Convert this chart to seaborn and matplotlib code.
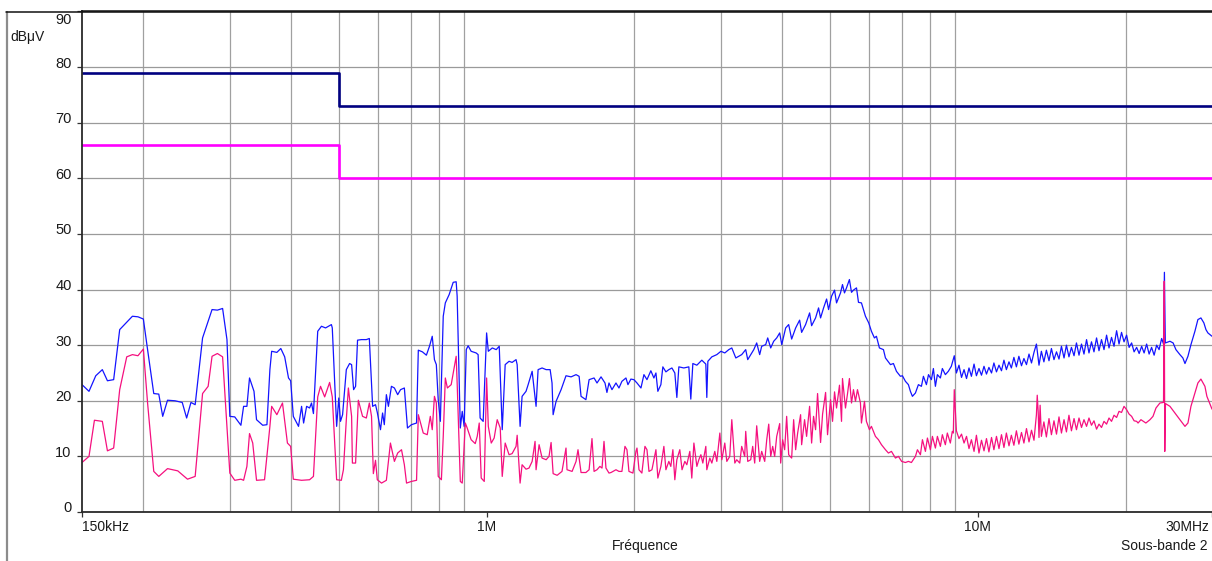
import matplotlib
matplotlib.use("Agg")
import matplotlib.pyplot as plt
from matplotlib.lines import Line2D
from matplotlib.ticker import FixedLocator, NullFormatter
from matplotlib.transforms import ScaledTranslation
import pandas as pd
import seaborn as sns

# ---- Limit lines (dBµV) ----
limit_freq_mhz = [0.15, 0.5, 30.0]
limit_qp_dbuv = [79, 73, 73]
limit_avg_dbuv = [66, 60, 60]

# ---- Peak trace, 150 kHz - 9 MHz ----
peak_freq_lf = [
    0.150, 0.155, 0.160, 0.165, 0.169, 0.174, 0.179, 0.184, 0.190, 0.195,
    0.200, 0.204, 0.210, 0.215, 0.219, 0.224, 0.232, 0.240, 0.245, 0.250,
    0.255, 0.264, 0.276, 0.283, 0.290, 0.296, 0.300, 0.307, 0.316, 0.320,
    0.325, 0.329, 0.336, 0.340, 0.350, 0.357, 0.362, 0.365, 0.374, 0.381,
    0.388, 0.395, 0.399, 0.404, 0.414, 0.420, 0.424, 0.430, 0.436, 0.440,
    0.444, 0.453, 0.461, 0.470, 0.483, 0.485, 0.495, 0.500, 0.504, 0.509,
    0.518, 0.526, 0.531, 0.536, 0.541, 0.546, 0.556, 0.569, 0.577, 0.586,
    0.594, 0.599, 0.608, 0.614, 0.619, 0.625, 0.631, 0.640, 0.649, 0.659,
    0.668, 0.680, 0.690, 0.703, 0.720, 0.726, 0.740, 0.754, 0.765, 0.775,
    0.783, 0.790, 0.797, 0.805, 0.816, 0.824, 0.839, 0.855, 0.867, 0.871,
    0.884, 0.892, 0.900, 0.909, 0.917, 0.930, 0.952, 0.961, 0.970, 0.984,
    1.000, 1.008, 1.027, 1.046, 1.061, 1.076, 1.091, 1.111, 1.127, 1.148,
    1.154, 1.170, 1.181, 1.203, 1.215, 1.238, 1.261, 1.273, 1.297, 1.322,
    1.347, 1.359, 1.366, 1.385, 1.418, 1.451, 1.486, 1.521, 1.543, 1.557,
    1.593, 1.617, 1.655, 1.678, 1.710, 1.742, 1.758, 1.775, 1.800, 1.834,
    1.860, 1.886, 1.922, 1.940, 1.967, 1.995, 2.024, 2.062, 2.091, 2.121,
    2.160, 2.191, 2.212, 2.232, 2.264, 2.285, 2.318, 2.350, 2.384, 2.417,
    2.440, 2.463, 2.521, 2.581, 2.605, 2.630, 2.680, 2.743, 2.795, 2.808,
    2.822, 2.875, 2.943, 3.000, 3.055, 3.113, 3.157, 3.217, 3.261, 3.307,
    3.370, 3.402, 3.450, 3.500, 3.548, 3.598, 3.632, 3.701, 3.736, 3.789,
    3.842, 3.897, 3.952, 3.990, 4.064, 4.122, 4.180, 4.259, 4.339, 4.380,
    4.462, 4.547, 4.590, 4.676, 4.742, 4.787, 4.855, 4.924, 4.970, 5.040,
    5.111, 5.159, 5.256, 5.305, 5.355, 5.406, 5.480, 5.534, 5.585, 5.665,
    5.718, 5.798, 5.908, 6.000, 6.076, 6.162, 6.220, 6.308, 6.428, 6.489,
    6.643, 6.736, 6.832, 6.960, 7.026, 7.126, 7.226, 7.294, 7.363, 7.468,
    7.573, 7.681, 7.753, 7.863, 7.940, 8.049, 8.124, 8.201, 8.278, 8.395,
    8.473, 8.593, 8.714, 8.837, 8.960,
]
peak_dbuv_lf = [
    22.9, 21.7, 24.5, 25.6, 23.6, 23.8, 32.8, 33.9, 35.2, 35.1,
    34.7, 29.2, 21.3, 21.2, 17.2, 20.1, 20.0, 19.7, 16.9, 19.7,
    19.3, 31.3, 36.4, 36.3, 36.6, 31.0, 17.2, 17.1, 15.6, 19.0,
    19.0, 24.1, 21.7, 16.6, 15.6, 15.7, 25.6, 28.9, 28.7, 29.4,
    27.9, 24.1, 23.6, 17.2, 15.4, 19.0, 16.0, 19.0, 18.7, 19.6,
    17.7, 32.5, 33.4, 33.1, 33.7, 33.1, 15.4, 20.5, 16.3, 17.5,
    25.6, 26.7, 26.5, 22.0, 22.6, 30.9, 31.0, 31.0, 31.2, 19.0,
    19.3, 17.9, 14.8, 17.8, 15.7, 21.1, 19.0, 22.6, 22.3, 21.1,
    22.0, 22.3, 15.1, 15.7, 16.0, 29.1, 28.8, 28.2, 29.8, 31.6,
    27.4, 26.5, 20.2, 16.3, 35.2, 37.6, 39.1, 41.3, 41.4, 38.8,
    15.1, 18.1, 15.4, 29.2, 29.9, 28.9, 28.6, 28.3, 16.9, 16.3,
    32.2, 28.9, 29.5, 29.2, 29.8, 14.8, 26.5, 27.1, 26.9, 27.4,
    26.5, 15.4, 20.8, 21.7, 22.9, 25.3, 19.0, 25.6, 25.9, 25.6,
    25.6, 23.2, 17.5, 19.9, 22.0, 24.5, 24.3, 24.7, 24.4, 20.8,
    20.2, 23.8, 24.1, 23.2, 24.3, 23.2, 21.5, 23.2, 22.0, 23.2,
    22.3, 23.5, 24.1, 22.9, 23.9, 23.8, 23.2, 22.3, 24.7, 23.8,
    25.4, 24.1, 25.0, 21.7, 22.9, 26.1, 25.2, 25.6, 25.9, 25.0,
    20.6, 26.1, 25.9, 26.1, 20.3, 26.7, 26.4, 27.3, 26.6, 20.6,
    27.1, 27.9, 28.3, 28.9, 28.6, 29.2, 29.5, 27.7, 28.0, 28.3,
    29.2, 27.4, 28.3, 29.2, 30.4, 28.3, 29.8, 30.1, 31.3, 29.5,
    30.7, 31.3, 32.2, 30.1, 33.1, 33.7, 31.1, 33.1, 34.5, 32.3,
    33.7, 35.8, 33.5, 34.9, 36.7, 34.9, 36.7, 38.3, 36.4, 38.8,
    39.9, 37.6, 39.4, 40.9, 39.4, 40.3, 41.8, 39.5, 39.9, 40.3,
    37.7, 37.6, 35.2, 34.0, 32.5, 31.3, 31.6, 29.5, 29.2, 27.7,
    26.5, 26.7, 25.3, 24.4, 24.5, 23.5, 22.9, 21.7, 20.8, 21.4,
    22.9, 22.6, 24.4, 22.9, 24.7, 23.8, 25.8, 22.6, 24.7, 24.1,
    25.8, 24.7, 25.3, 26.2, 28.1,
]

# ---- Peak trace, 9 MHz - 30 MHz ----
peak_freq_hf = [
    9.05, 9.16, 9.27, 9.38, 9.49, 9.60, 9.71, 9.83, 9.94, 10.06,
    10.18, 10.30, 10.42, 10.54, 10.67, 10.79, 10.92, 11.05, 11.18, 11.31,
    11.44, 11.58, 11.71, 11.85, 11.99, 12.13, 12.28, 12.42, 12.57, 12.72,
    12.87, 13.02, 13.17, 13.33, 13.48, 13.64, 13.80, 13.97, 14.13, 14.30,
    14.47, 14.64, 14.81, 14.99, 15.16, 15.34, 15.52, 15.71, 15.89, 16.08,
    16.27, 16.46, 16.66, 16.85, 17.05, 17.25, 17.46, 17.66, 17.87, 18.08,
    18.30, 18.51, 18.73, 18.95, 19.18, 19.40, 19.63, 19.86, 20.10, 20.34,
    20.58, 20.82, 21.07, 21.32, 21.57, 21.82, 22.08, 22.34, 22.60, 22.87,
    23.14, 23.41, 23.69, 23.90, 24.00, 24.10, 24.63, 25.00, 25.33, 25.81,
    26.17, 26.43, 26.80, 27.18, 27.69, 28.08, 28.48, 28.88, 29.16, 29.43,
    30.00,
]
peak_dbuv_hf = [
    25.0, 26.4, 24.2, 25.6, 24.0, 25.9, 24.4, 26.6, 24.5, 25.8,
    24.6, 26.2, 24.8, 26.0, 25.0, 26.8, 25.2, 26.4, 25.4, 27.3,
    25.6, 27.0, 25.9, 27.8, 26.1, 28.0, 26.3, 27.6, 26.5, 28.4,
    26.8, 28.7, 30.2, 26.4, 28.9, 27.0, 29.1, 27.2, 29.4, 27.4,
    28.8, 27.5, 29.8, 27.7, 30.0, 27.9, 29.6, 28.1, 30.4, 28.2,
    30.2, 28.4, 31.0, 28.6, 30.6, 28.8, 31.3, 29.0, 31.0, 29.2,
    31.8, 29.5, 31.4, 29.8, 32.6, 30.2, 32.3, 30.6, 31.8, 29.6,
    30.4, 28.8, 29.6, 28.5, 29.8, 28.6, 30.2, 28.4, 29.6, 28.2,
    30.0, 29.2, 31.2, 30.2, 43.1, 30.4, 30.7, 30.4, 29.2, 28.3,
    27.7, 26.7, 28.0, 30.1, 32.5, 34.6, 34.9, 34.0, 32.8, 32.2,
    31.6,
]

# ---- Average trace, 150 kHz - 9 MHz ----
avg_freq_lf = [
    0.150, 0.155, 0.159, 0.165, 0.169, 0.174, 0.179, 0.185, 0.190, 0.195,
    0.200, 0.204, 0.210, 0.215, 0.224, 0.235, 0.246, 0.255, 0.264, 0.271,
    0.276, 0.283, 0.290, 0.300, 0.307, 0.316, 0.320, 0.325, 0.329, 0.334,
    0.340, 0.353, 0.362, 0.365, 0.374, 0.384, 0.393, 0.399, 0.404, 0.420,
    0.436, 0.444, 0.453, 0.459, 0.468, 0.479, 0.485, 0.495, 0.506, 0.511,
    0.518, 0.523, 0.531, 0.533, 0.541, 0.548, 0.559, 0.569, 0.577, 0.583,
    0.588, 0.594, 0.599, 0.611, 0.625, 0.637, 0.649, 0.659, 0.671, 0.680,
    0.687, 0.703, 0.720, 0.726, 0.743, 0.757, 0.768, 0.775, 0.783, 0.790,
    0.797, 0.809, 0.816, 0.824, 0.832, 0.847, 0.855, 0.867, 0.871, 0.884,
    0.892, 0.905, 0.913, 0.930, 0.948, 0.957, 0.966, 0.975, 0.989, 1.000,
    1.008, 1.022, 1.036, 1.051, 1.066, 1.076, 1.091, 1.111, 1.127, 1.148,
    1.154, 1.170, 1.181, 1.203, 1.220, 1.238, 1.255, 1.261, 1.279, 1.297,
    1.322, 1.340, 1.353, 1.366, 1.392, 1.424, 1.451, 1.458, 1.493, 1.521,
    1.535, 1.557, 1.593, 1.617, 1.639, 1.655, 1.678, 1.701, 1.718, 1.734,
    1.750, 1.775, 1.792, 1.834, 1.860, 1.886, 1.913, 1.931, 1.949, 1.986,
    2.014, 2.024, 2.043, 2.071, 2.101, 2.121, 2.141, 2.171, 2.212, 2.232,
    2.264, 2.296, 2.318, 2.350, 2.372, 2.395, 2.417, 2.440, 2.474, 2.500,
    2.533, 2.557, 2.593, 2.617, 2.643, 2.680, 2.705, 2.731, 2.756, 2.795,
    2.808, 2.848, 2.875, 2.915, 2.943, 2.985, 3.013, 3.055, 3.084, 3.127,
    3.157, 3.202, 3.231, 3.277, 3.307, 3.354, 3.370, 3.402, 3.450, 3.482,
    3.515, 3.548, 3.598, 3.632, 3.684, 3.719, 3.754, 3.789, 3.824, 3.860,
    3.897, 3.952, 3.970, 4.007, 4.045, 4.083, 4.122, 4.180, 4.219, 4.259,
    4.299, 4.359, 4.380, 4.441, 4.483, 4.547, 4.590, 4.632, 4.676, 4.720,
    4.787, 4.832, 4.901, 4.946, 5.016, 5.063, 5.111, 5.159, 5.231, 5.281,
    5.305, 5.380, 5.432, 5.480, 5.534, 5.585, 5.638, 5.691, 5.771, 5.798,
    5.881, 5.935, 6.020, 6.076, 6.191, 6.279, 6.369, 6.489, 6.580, 6.674,
    6.800, 6.896, 7.000, 7.126, 7.226, 7.329, 7.468, 7.538, 7.645, 7.717,
    7.826, 7.900, 8.011, 8.087, 8.201, 8.278, 8.395, 8.473, 8.593, 8.673,
    8.796, 8.878, 8.920, 8.960,
]
avg_dbuv_lf = [
    8.9, 10.0, 16.5, 16.3, 11.0, 11.5, 22.0, 27.9, 28.3, 28.1,
    29.3, 19.6, 7.3, 6.4, 7.8, 7.4, 5.9, 6.4, 21.3, 22.6,
    28.0, 28.5, 27.9, 7.0, 5.7, 5.9, 5.7, 8.2, 14.1, 12.4,
    5.7, 5.8, 15.4, 19.0, 17.5, 19.6, 12.4, 11.8, 5.9, 5.7,
    5.8, 6.4, 20.7, 22.6, 20.7, 23.3, 20.7, 5.8, 5.7, 7.6,
    16.6, 22.3, 17.2, 8.8, 8.8, 20.1, 17.2, 16.9, 19.6, 17.2,
    6.9, 9.3, 5.8, 5.2, 5.7, 12.4, 9.1, 10.6, 11.2, 8.5,
    5.2, 5.5, 5.7, 17.5, 14.2, 13.9, 17.2, 14.8, 20.8, 19.6,
    6.4, 5.8, 13.6, 24.1, 22.3, 22.9, 25.0, 28.0, 23.2, 5.5,
    5.2, 16.0, 15.1, 13.0, 12.3, 13.6, 16.0, 6.1, 5.5, 24.1,
    15.4, 12.4, 13.3, 16.6, 15.1, 6.4, 12.4, 10.3, 10.5, 11.8,
    13.8, 5.2, 8.5, 7.7, 7.9, 9.1, 12.7, 7.6, 12.1, 9.7,
    9.4, 10.0, 12.5, 6.9, 6.6, 7.3, 11.5, 7.6, 7.3, 9.1,
    11.2, 7.1, 7.1, 7.6, 13.2, 7.3, 7.6, 8.2, 7.9, 12.7,
    7.9, 7.0, 7.1, 7.6, 7.3, 7.3, 11.8, 11.2, 7.3, 7.0,
    10.9, 11.5, 7.6, 7.0, 11.8, 11.2, 7.3, 7.6, 11.2, 6.1,
    8.2, 11.8, 7.6, 9.1, 8.2, 11.2, 5.8, 9.4, 11.2, 7.6,
    9.1, 8.5, 10.9, 6.1, 12.4, 8.2, 9.4, 10.3, 8.8, 11.8,
    7.6, 9.7, 8.8, 10.9, 9.1, 14.2, 9.4, 12.4, 9.1, 10.0,
    16.6, 8.8, 9.4, 8.8, 11.8, 10.0, 14.5, 9.1, 9.4, 11.8,
    8.8, 15.5, 9.1, 10.9, 9.1, 13.0, 15.8, 10.0, 11.8, 10.0,
    13.6, 15.9, 8.8, 13.0, 11.2, 17.2, 10.3, 9.7, 16.6, 11.2,
    14.2, 17.5, 12.1, 16.6, 13.6, 19.0, 12.4, 17.2, 14.8, 21.3,
    12.5, 17.6, 21.5, 13.9, 20.2, 16.3, 21.6, 18.7, 22.8, 16.3,
    24.0, 18.7, 21.3, 24.0, 19.6, 22.0, 19.9, 22.0, 19.6, 16.0,
    19.9, 16.3, 14.8, 15.4, 13.6, 13.0, 12.1, 11.2, 10.6, 10.9,
    9.7, 10.0, 9.1, 8.9, 9.1, 8.9, 10.0, 11.2, 10.3, 13.0,
    10.9, 13.3, 11.2, 13.6, 11.5, 13.6, 11.8, 13.9, 12.1, 14.2,
    12.4, 14.5, 14.2, 22.0,
]

# ---- Average trace, 9 MHz - 30 MHz ----
avg_freq_hf = [
    9.05, 9.16, 9.27, 9.38, 9.49, 9.60, 9.71, 9.83, 9.94, 10.06,
    10.18, 10.30, 10.42, 10.54, 10.67, 10.79, 10.92, 11.05, 11.18, 11.31,
    11.44, 11.58, 11.71, 11.85, 11.99, 12.13, 12.28, 12.42, 12.57, 12.72,
    12.87, 13.02, 13.17, 13.22, 13.28, 13.33, 13.40, 13.48, 13.64, 13.80,
    13.97, 14.13, 14.30, 14.47, 14.64, 14.81, 14.99, 15.16, 15.34, 15.52,
    15.71, 15.89, 16.08, 16.27, 16.46, 16.66, 16.85, 17.05, 17.25, 17.46,
    17.66, 17.87, 18.08, 18.30, 18.51, 18.73, 18.95, 19.18, 19.40, 19.63,
    19.86, 20.10, 20.34, 20.58, 20.82, 21.07, 21.21, 21.50, 22.00, 22.43,
    22.75, 23.07, 23.50, 23.90, 23.98, 24.04, 24.12, 24.63, 25.21, 25.81,
    26.43, 26.80, 27.18, 27.69, 28.08, 28.48, 29.02, 29.29, 30.00,
]
avg_dbuv_hf = [
    14.6, 13.2, 14.0, 12.4, 13.6, 11.4, 13.0, 10.9, 13.8, 10.6,
    12.9, 11.0, 13.2, 10.8, 13.4, 11.2, 13.6, 11.4, 13.9, 11.6,
    14.2, 11.9, 13.8, 12.0, 14.6, 12.2, 14.3, 12.4, 15.0, 12.6,
    14.7, 12.9, 17.5, 21.0, 18.0, 13.4, 19.2, 13.6, 16.2, 13.5,
    16.8, 13.9, 16.4, 14.0, 17.1, 14.2, 16.6, 14.4, 17.4, 14.6,
    16.8, 14.8, 16.9, 15.2, 16.6, 15.4, 16.9, 15.6, 16.4, 14.9,
    15.8, 15.2, 16.3, 15.8, 16.9, 16.3, 17.4, 17.0, 18.1, 17.9,
    19.0, 18.4, 17.6, 17.2, 16.4, 16.3, 16.0, 16.6, 16.0, 16.6,
    17.2, 18.7, 19.6, 19.7, 41.5, 10.9, 19.5, 19.0, 17.8, 16.6,
    15.4, 16.0, 19.0, 21.4, 23.2, 23.9, 22.6, 20.8, 18.5,
]

# ---- Axis annotations ----
y_ticks = [0, 10, 20, 30, 40, 50, 60, 70, 80, 90]
x_tick_freqs = [0.15, 1.0, 10.0, 30.0]
x_tick_labels = ["150kHz", "1M", "10M", "30MHz"]
grid_freqs = [0.2, 0.3, 0.4, 0.5, 0.6, 0.7, 0.8, 0.9,
              1, 2, 3, 4, 5, 6, 7, 8, 9, 10, 20]

peak_df = pd.DataFrame({"freq": peak_freq_lf + peak_freq_hf,
                        "level": peak_dbuv_lf + peak_dbuv_hf})
avg_df = pd.DataFrame({"freq": avg_freq_lf + avg_freq_hf,
                       "level": avg_dbuv_lf + avg_dbuv_hf})
lim_df = pd.DataFrame({"freq": limit_freq_mhz, "qp": limit_qp_dbuv,
                       "avg": limit_avg_dbuv})

sns.set_theme(style="white")
plt.rcParams["font.family"] = ["Liberation Sans", "DejaVu Sans"]

W, H = 1212, 561
fig = plt.figure(figsize=(W / 100, H / 100), dpi=100)
fig.patch.set_facecolor("white")
ax = fig.add_axes([82 / W, 1 - 512 / H, (W - 82) / W, (512 - 11.5) / H])
ax.set_facecolor("white")

sns.lineplot(data=lim_df, x="freq", y="qp", ax=ax, color="#000080",
             lw=1.9, drawstyle="steps-post", estimator=None, sort=False)
sns.lineplot(data=lim_df, x="freq", y="avg", ax=ax, color="#ff00ff",
             lw=1.9, drawstyle="steps-post", estimator=None, sort=False)
sns.lineplot(data=peak_df, x="freq", y="level", ax=ax, color="#1414ff",
             lw=0.9, estimator=None, sort=False)
sns.lineplot(data=avg_df, x="freq", y="level", ax=ax, color="#f5107f",
             lw=0.9, estimator=None, sort=False)

ax.set_xscale("log")
ax.set_xlim(0.15, 30)
ax.set_ylim(0, 90)
ax.set_xlabel("")
ax.set_ylabel("")

# grid and ticks
ax.xaxis.set_major_locator(FixedLocator(x_tick_freqs))
ax.set_xticklabels(x_tick_labels)
ax.xaxis.set_minor_locator(FixedLocator(grid_freqs))
ax.xaxis.set_minor_formatter(NullFormatter())
ax.set_yticks(y_ticks)
ax.grid(False)
ax.grid(True, which="minor", axis="x", color="#a0a0a0", lw=0.9)
ax.grid(True, which="major", axis="y", color="#9a9a9a", lw=0.9)
ax.set_axisbelow(True)

ax.tick_params(axis="x", which="major", length=3.5, width=0.9, color="#333333",
               pad=2.5, labelsize=10, labelcolor="#1a1a1a", direction="out",
               bottom=True)
ax.tick_params(axis="x", which="minor", length=0)
ax.tick_params(axis="y", which="major", length=3.5, width=0.9, color="#333333",
               pad=4, labelsize=10.5, labelcolor="#1a1a1a", direction="out",
               left=True)

xlabels = ax.get_xticklabels()
xlabels[0].set_ha("left")
xlabels[-1].set_ha("right")
xlabels[-1].set_transform(xlabels[-1].get_transform()
                          + ScaledTranslation(-3 / 100, 0, fig.dpi_scale_trans))
for lab in ax.get_yticklabels():
    dy = -7 if lab.get_text() == "90" else 5
    lab.set_transform(lab.get_transform()
                      + ScaledTranslation(0, dy / 100, fig.dpi_scale_trans))

for side in ("left", "bottom"):
    ax.spines[side].set_color("#2a2a2a")
    ax.spines[side].set_linewidth(1.3)
ax.spines["top"].set_color("#111111")
ax.spines["top"].set_linewidth(1.1)
ax.spines["right"].set_visible(False)

# outer frame
fig.add_artist(Line2D([6.5 / W, 6.5 / W], [0, 1 - 11.5 / H],
                      color="#8c8c8c", lw=1.6))
fig.add_artist(Line2D([6 / W, 1], [1 - 11.5 / H, 1 - 11.5 / H],
                      color="#111111", lw=1.1))

fig.text(10 / W, 1 - 37 / H, "dBμV", ha="left", va="center", fontsize=10,
         color="#1a1a1a")
fig.text(645 / W, 1 - 546 / H, "Fréquence", ha="center", va="center",
         fontsize=10, color="#1a1a1a")
fig.text(1208 / W, 1 - 546 / H, "Sous-bande 2", ha="right", va="center",
         fontsize=10, color="#1a1a1a")

fig.savefig("out.png", dpi=100)
